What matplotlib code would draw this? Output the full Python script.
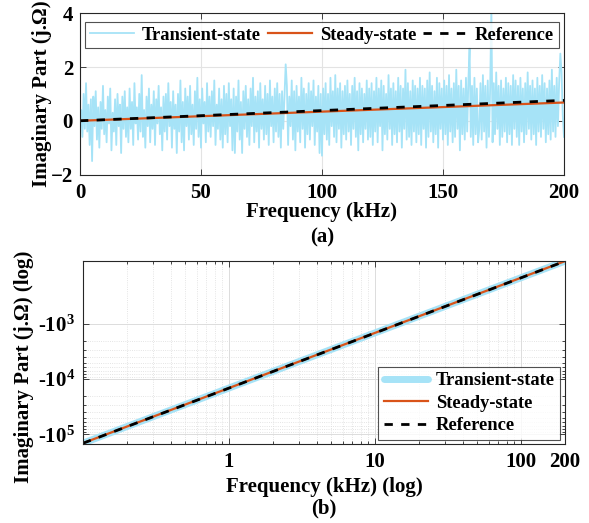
import matplotlib
matplotlib.use('Agg')
import matplotlib.pyplot as plt
import matplotlib.ticker as mt
import numpy as np

plt.rcParams['font.family'] = ['Liberation Serif', 'DejaVu Serif']
plt.rcParams['font.weight'] = 'bold'
plt.rcParams['axes.labelweight'] = 'bold'
plt.rcParams['mathtext.fontset'] = 'custom'
plt.rcParams['mathtext.rm'] = 'Liberation Serif:bold'
plt.rcParams['mathtext.bf'] = 'Liberation Serif:bold'
plt.rcParams['mathtext.default'] = 'bf'

# ---- (a) linear plot data ----
freq_lin = np.linspace(0, 200, 401)  # kHz, 0.5 kHz step
transient_lin = [
    0.0, 0.4, -0.6, 1.0, -0.3, 1.4, -0.4, 0.6, -0.9, 0.8,
    -1.5, 0.9, -0.2, 1.1, -0.7, 0.5, -1.0, 0.7, -0.3, 1.3,
    -0.5, 0.4, -0.8, 0.9, -0.1, 1.2, -1.1, 0.3, -0.4, 0.8,
    -0.9, 1.0, -0.2, 0.6, -1.2, 0.9, -0.3, 1.1, -0.6, 0.5,
    -0.8, 1.2, -0.3, 0.7, -0.9, 1.4, -0.1, 0.5, -0.7, 1.0,
    -0.4, 1.7, -0.6, 0.4, -1.0, 0.9, -0.2, 1.2, -0.8, 0.6,
    -0.3, 1.1, -0.9, 0.8, -0.1, 1.3, -0.5, 0.5, -1.1, 0.9,
    -0.4, 1.0, -0.7, 1.4, -0.2, 0.7, -1.0, 1.1, -0.3, 0.6,
    -1.2, 1.0, -0.4, 1.5, -0.8, 0.7, -1.1, 1.2, -0.2, 0.9,
    -0.7, 1.3, -0.5, 0.6, -0.9, 1.1, -0.3, 1.6, -0.6, 0.8,
    -1.0, 1.2, -0.1, 0.7, -0.8, 1.4, -0.4, 0.9, -0.6, 1.1,
    -0.2, 1.5, -0.9, 0.6, -0.3, 1.2, -0.7, 0.8, -1.0, 1.3,
    -0.5, 1.0, -0.8, 1.4, -0.2, 0.8, -1.1, 1.2, -1.2, 0.9,
    -0.4, 1.5, -0.7, 0.7, -1.2, 1.1, -0.3, 1.3, -0.6, 0.8,
    -0.9, 1.2, -0.2, 1.6, -0.8, 0.9, -0.4, 1.1, -1.0, 1.4,
    -0.3, 0.8, -0.7, 1.3, -0.5, 1.0, -0.9, 1.5, -0.2, 0.9,
    -0.8, 1.2, -0.4, 1.4, -0.6, 1.0, -1.0, 1.1, -0.3, 0.9,
    2.1, 1.3, -0.9, 0.9, -0.2, 1.5, -0.7, 1.1, -1.1, 1.3,
    -0.4, 0.9, -0.8, 1.6, -0.3, 1.2, -1.0, 1.0, -0.5, 1.4,
    -0.7, 1.1, -0.2, 1.5, -0.9, 0.9, -0.4, 1.3, -1.2, 1.0,
    -1.3, 1.2, -0.5, 1.4, -0.7, 1.0, -0.9, 1.6, -0.2, 1.1,
    -0.6, 1.7, -0.8, 1.2, -0.3, 1.4, -1.0, 1.1, -0.5, 1.3,
    -0.7, 1.5, -0.4, 1.0, -0.9, 1.3, -0.3, 1.6, -0.6, 1.1,
    -1.1, 1.4, -0.5, 1.2, -0.8, 1.0, -0.3, 1.5, -0.7, 1.2,
    -0.6, 1.4, -0.9, 1.1, -0.4, 1.6, -0.8, 1.2, -0.2, 1.5,
    -1.1, 1.3, -0.5, 1.0, -0.7, 1.7, -0.3, 1.2, -0.9, 1.4,
    -0.5, 1.1, -0.8, 1.6, -0.4, 1.3, -1.0, 1.2, -0.3, 1.9,
    -0.7, 1.4, -0.6, 1.1, -0.9, 1.5, -0.4, 1.3, -0.8, 1.2,
    -0.5, 1.6, -0.9, 1.3, -0.3, 1.2, -1.0, 1.5, -0.6, 1.8,
    -0.4, 1.3, -0.8, 1.1, -0.5, 1.6, -1.0, 1.4, -0.3, 1.2,
    -0.7, 1.5, -0.5, 1.3, -0.9, 1.7, -0.4, 1.2, -0.8, 1.4,
    -0.6, 1.9, -0.3, 1.3, -1.1, 1.5, -0.5, 1.2, -0.7, 1.6,
    -0.4, 1.5, 2.7, -0.6, 1.3, -0.9, 1.6, -0.5, 1.2, -0.8,
    -0.3, 1.4, -0.7, 1.7, -0.4, 1.3, -1.0, 1.5, -0.6, 1.2,
    4.2, -0.8, 1.4, -0.5, 1.8, -0.3, 1.3, -0.9, 1.5, -0.6,
    1.2, -0.4, 1.6, -0.8, 1.4, -0.5, 1.3, -0.9, 1.7, -0.3,
    1.5, -0.6, 1.3, -0.9, 1.6, -0.4, 1.2, -0.8, 1.4, -0.5,
    1.8, -0.3, 1.3, -0.7, 1.5, -0.5, 1.2, -0.9, 1.6, -0.4,
    1.3, -0.6, 1.7, -0.3, 1.4, -0.8, 1.2, -0.5, 1.5, -0.7,
    1.9, -0.4, 1.3, -0.6, 1.6, -0.2, 1.4, 2.5, 1.8, 0.2, -0.6,
]
freq_pts = [0, 50, 100, 150, 200]
steady_lin = [0.0, 0.17, 0.34, 0.51, 0.68]
reference_lin = [0.0, 0.19, 0.38, 0.57, 0.76]

# ---- (b) log plot data ----
freq_log = [0.1, 0.2, 0.5, 1, 2, 5, 10, 20, 50, 100, 200]
imag_log = [-145000, -72500, -29000, -14500, -7250, -2900, -1450, -725, -290, -145, -72.5]
imag_log_ref = [-145500, -72700, -29100, -14550, -7270, -2910, -1455, -727, -291, -145.5, -72.7]

c_tr = '#a6e3f7'
c_st = '#d95319'
axcol = '#262626'

fig = plt.figure(figsize=(5.89, 5.23), dpi=100)
ax1 = fig.add_axes([0.1358, 0.6663, 0.8217, 0.3083])
ax2 = fig.add_axes([0.1409, 0.1511, 0.8183, 0.3499])

for ax in (ax1, ax2):
    for s in ax.spines.values():
        s.set_color(axcol)
        s.set_linewidth(0.8)
    ax.tick_params(which='both', direction='in', top=True, right=True,
                   color=axcol, labelsize=15, width=0.6)
    ax.tick_params(which='major', length=4)
    ax.tick_params(which='minor', length=2.5)

# (a)
ax1.plot(freq_lin, transient_lin, color=c_tr, lw=1.3, label='Transient-state')
ax1.plot(freq_pts, steady_lin, color=c_st, lw=1.6, label='Steady-state')
ax1.plot(freq_pts, reference_lin, color='black', lw=2, ls=(0, (3, 3)), label='Reference')
ax1.set_xlim(0, 200)
ax1.set_ylim(-2, 4)
ax1.set_xticks([0, 50, 100, 150, 200])
ax1.set_yticks([-2, 0, 2, 4])
ax1.grid(True, color='#e3e3e3', lw=0.8)
ax1.set_axisbelow(True)
ax1.tick_params(axis='x', pad=6)
ax1.tick_params(axis='y', pad=5)
ax1.set_xlabel('Frequency (kHz)', fontsize=15)
ax1.set_ylabel('Imaginary Part (j.Ω)', fontsize=15)
ax1.xaxis.set_label_coords(0.5, -0.235)
ax1.xaxis.label.set_va('center')
ax1.yaxis.set_label_coords(-0.078, 0.5)
ax1.yaxis.label.set_va('center')
leg1 = ax1.legend(loc='upper center', bbox_to_anchor=(0.5, 0.946), ncol=3,
                  fontsize=13.3, frameon=True, fancybox=False, borderaxespad=0,
                  handlelength=2.4, handletextpad=0.4, columnspacing=0.4,
                  borderpad=0.25)
leg1.get_frame().set_edgecolor(axcol)
leg1.get_frame().set_linewidth(0.8)
ax1.text(0.5, -0.39, '(a)', transform=ax1.transAxes, ha='center', va='center', fontsize=15)

# (b)
ax2.plot(freq_log, np.abs(imag_log), color=c_tr, lw=5, solid_capstyle='round', label='Transient-state')
ax2.plot(freq_log, np.abs(imag_log), color=c_st, lw=1.6, label='Steady-state')
ax2.plot(freq_log, np.abs(imag_log_ref), color='black', lw=2, ls=(0, (3, 3)), label='Reference')
ax2.set_xscale('log')
ax2.set_yscale('log')
ax2.set_xlim(0.1, 200)
ax2.set_ylim(1.5e5, 72)
ax2.set_xticks([1, 10, 100, 200])
ax2.set_xticklabels(['1', '10', '100', '200'])
ax2.xaxis.set_minor_locator(mt.LogLocator(base=10, subs=np.arange(2, 10)))
ax2.xaxis.set_minor_formatter(mt.NullFormatter())
ax2.set_yticks([1e3, 1e4, 1e5])
ax2.set_yticklabels(['-10$^{3}$', '-10$^{4}$', '-10$^{5}$'])
ax2.yaxis.set_minor_locator(mt.FixedLocator([m * d for d in (1e3, 1e4) for m in range(2, 10)]))
ax2.yaxis.set_minor_formatter(mt.NullFormatter())
ax2.grid(True, which='major', color='#dcdcdc', lw=0.7)
ax2.grid(True, which='minor', color='#dcdcdc', lw=0.6, ls=':')
ax2.set_axisbelow(True)
ax2.tick_params(axis='x', pad=6)
ax2.tick_params(axis='y', pad=6)
ax2.set_xlabel('Frequency (kHz) (log)', fontsize=15)
ax2.set_ylabel('Imaginary Part (j.Ω) (log)', fontsize=15)
ax2.xaxis.set_label_coords(0.5, -0.235)
ax2.xaxis.label.set_va('center')
ax2.yaxis.set_label_coords(-0.122, 0.42)
ax2.yaxis.label.set_va('center')
leg2 = ax2.legend(loc='lower right', bbox_to_anchor=(0.99, 0.022), fontsize=13.3,
                  frameon=True, fancybox=False, borderaxespad=0,
                  handlelength=2.4, handletextpad=0.4, labelspacing=0.3,
                  borderpad=0.3)
leg2.get_frame().set_edgecolor(axcol)
leg2.get_frame().set_linewidth(0.8)
ax2.text(0.5, -0.355, '(b)', transform=ax2.transAxes, ha='center', va='center', fontsize=15)

fig.savefig('out.png', dpi=100, facecolor='white')
